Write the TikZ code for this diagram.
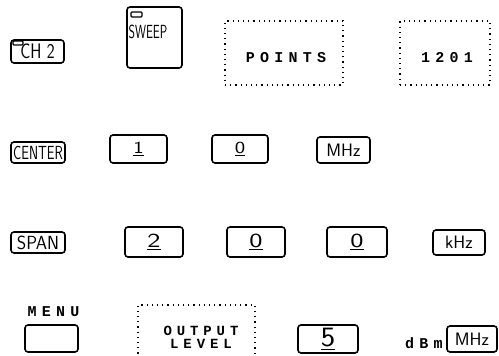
\documentclass[tikz,border=0pt]{standalone}
\usepackage{fontspec}
\usepackage{graphicx}
\newfontfamily\plotfont[LetterSpace=35]{Liberation Mono}
\usetikzlibrary{positioning}
\newcommand{\hscale}[2]{\scalebox{#1}[1]{#2}}
\newcommand{\fsz}[1]{\fontsize{#1}{#1}\selectfont}
\tikzset{
  key/.style={draw, line width=1.6pt, rounded corners=3pt, inner sep=0pt, font=\sffamily},
  dotbox/.style={draw, line width=1.2pt, dash pattern=on 1.2pt off 4pt, inner sep=0pt},
  plot/.style={font=\plotfont\bfseries\fsz{15}},
  tight/.style={inner sep=0pt, text height=9pt, text depth=0pt, font=\plotfont\bfseries\fsz{14}},
  led/.style={draw, line width=1.2pt, rounded corners=1pt, inner sep=0pt},
}
\begin{document}
\begin{tikzpicture}[x=1pt,y=-1pt]
    \useasboundingbox (0,0) rectangle (499,356);
    % first row
    \node[key, minimum width=53pt, minimum height=23pt] (ch2) at (37.5,51.5) {\fsz{21}\hscale{0.8}{CH 2}};
    \node[led, minimum width=10pt, minimum height=4pt] (chled) at (18,43) {};
    \node[key, minimum width=55pt, minimum height=61pt] (sweep) at (154.5,37.5) {};
    \node[led, minimum width=11pt, minimum height=5pt] (swled) at (136.5,14.5) {};
    \node[font=\sffamily] (sweeptext) at (148,32) {\fsz{19}\hscale{0.65}{SWEEP}};
    \node[dotbox, minimum width=118pt, minimum height=64pt] (points) at (284,53) {};
    \node[plot] (pointstext) at ([xshift=2pt,yshift=-5pt]points.center) {POINTS};
    \node[dotbox, minimum width=90pt, minimum height=64pt] (count) at (445,53) {};
    \node[plot] (counttext) at ([xshift=2pt,yshift=-5pt]count.center) {1201};
    % center row
    \node[key, minimum width=54pt, minimum height=21pt] (center) at (38,152.5) {\fsz{19}\hscale{0.72}{CENTER}};
    \node[key, minimum width=57pt, minimum height=28pt] (one) at (138.5,149) {\fsz{17}\hscale{1.3}{\underline{1}}};
    \node[key, minimum width=56pt, minimum height=28pt] (zeroa) at (240,149) {\fsz{17}\hscale{1.3}{\underline{0}}};
    \node[key, minimum width=53pt, minimum height=26pt] (mhza) at (343.5,150) {\fsz{18}MHz};
    % span row
    \node[key, minimum width=54pt, minimum height=21pt] (span) at (38,242.5) {\fsz{19}\hscale{0.95}{SPAN}};
    \node[key, minimum width=58pt, minimum height=30pt] (two) at (154,242) {\fsz{20}\hscale{1.4}{\underline{2}}};
    \node[key, minimum width=58pt, minimum height=30pt] (zerob) at (256,242) {\fsz{20}\hscale{1.4}{\underline{0}}};
    \node[key, minimum width=60pt, minimum height=30pt] (zeroc) at (357,242) {\fsz{20}\hscale{1.4}{\underline{0}}};
    \node[key, minimum width=52pt, minimum height=25pt] (khz) at (459,242.5) {\fsz{18}kHz};
    % output row
    \node[key, minimum width=53pt, minimum height=27pt] (menu) at (51.5,338.5) {};
    \node[plot, above=4pt of menu, xshift=2pt] (menutext) {MENU};
    \node[dotbox, minimum width=117pt, minimum height=67pt] (level) at (196.5,338.5) {};
    \node[tight] (outputtext) at (201,331) {OUTPUT};
    \node[tight, below=4pt of outputtext] (leveltext) {LEVEL};
    \node[key, minimum width=60pt, minimum height=28pt] (five) at (328,339) {\fsz{28}\hscale{1.1}{\underline{5}}};
    \node[key, minimum width=50pt, minimum height=26pt] (mhzb) at (472,339) {\fsz{18}MHz};
    \node[plot, left=0pt of mhzb, yshift=-4pt] (dbm) {dBm};
\end{tikzpicture}
\end{document}
